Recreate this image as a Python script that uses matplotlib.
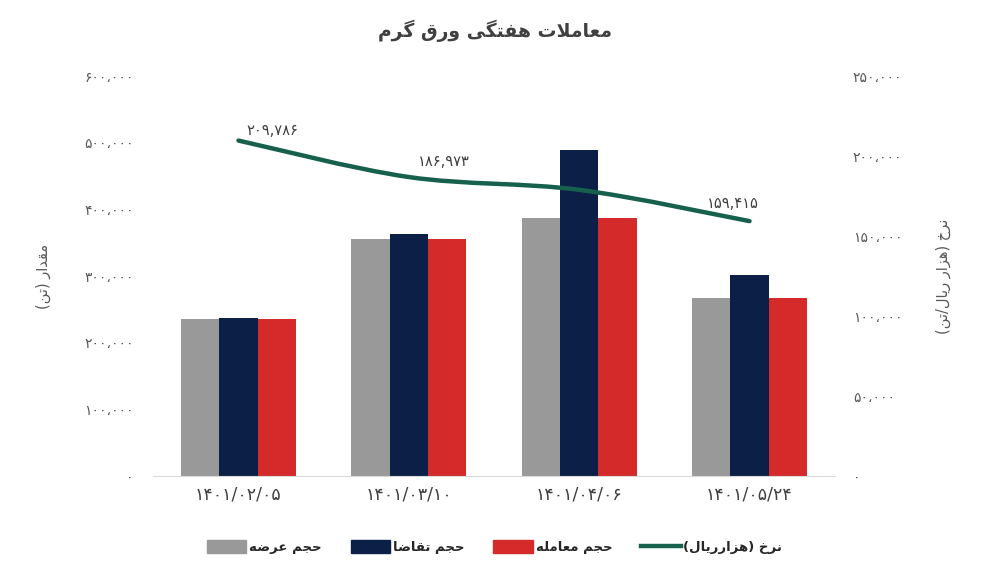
import numpy as np
import matplotlib
matplotlib.use("Agg")
import matplotlib.pyplot as plt
from matplotlib.path import Path
from matplotlib.patches import PathPatch, Patch
from matplotlib.lines import Line2D

# data
dates = ["۱۴۰۱/۰۲/۰۵", "۱۴۰۱/۰۳/۱۰", "۱۴۰۱/۰۴/۰۶", "۱۴۰۱/۰۵/۲۴"]
supply = [235500, 356000, 387000, 267000]      # حجم عرضه
demand = [237000, 363000, 489000, 301500]      # حجم تقاضا
traded = [235500, 356000, 387000, 267000]      # حجم معامله
price = [209786, 186973, 179000, 159415]       # نرخ (هزار ریال)
price_labels = ["۲۰۹,۷۸۶", "۱۸۶,۹۷۳", None, "۱۵۹,۴۱۵"]
left_ticks = [0, 100000, 200000, 300000, 400000, 500000, 600000]
right_ticks = [0, 50000, 100000, 150000, 200000, 250000]

# minimal persian shaping (isolated, final, initial, medial)
FORMS = {
	'ا': ('\uFE8D', '\uFE8E', None, None),
	'د': ('\uFEA9', '\uFEAA', None, None),
	'ر': ('\uFEAD', '\uFEAE', None, None),
	'ز': ('\uFEAF', '\uFEB0', None, None),
	'و': ('\uFEED', '\uFEEE', None, None),
	'ت': ('\uFE95', '\uFE96', '\uFE97', '\uFE98'),
	'ج': ('\uFE9D', '\uFE9E', '\uFE9F', '\uFEA0'),
	'ح': ('\uFEA1', '\uFEA2', '\uFEA3', '\uFEA4'),
	'خ': ('\uFEA5', '\uFEA6', '\uFEA7', '\uFEA8'),
	'ض': ('\uFEBD', '\uFEBE', '\uFEBF', '\uFEC0'),
	'ع': ('\uFEC9', '\uFECA', '\uFECB', '\uFECC'),
	'ف': ('\uFED1', '\uFED2', '\uFED3', '\uFED4'),
	'ق': ('\uFED5', '\uFED6', '\uFED7', '\uFED8'),
	'ل': ('\uFEDD', '\uFEDE', '\uFEDF', '\uFEE0'),
	'م': ('\uFEE1', '\uFEE2', '\uFEE3', '\uFEE4'),
	'ن': ('\uFEE5', '\uFEE6', '\uFEE7', '\uFEE8'),
	'ه': ('\uFEE9', '\uFEEA', '\uFEEB', '\uFEEC'),
	'ی': ('\uFBFC', '\uFBFD', '\uFBFE', '\uFBFF'),
	'گ': ('\uFB92', '\uFB93', '\uFB94', '\uFB95'),
}
MIRROR = {'(': ')', ')': '('}

def fa(text):
	out = []
	i = 0
	n = len(text)
	while i < n:
		c = text[i]
		if c not in FORMS:
			out.append(c)
			i += 1
			continue
		prev = text[i - 1] if i > 0 else None
		join_prev = prev in FORMS and FORMS[prev][2] is not None
		if c == 'ل' and i + 1 < n and text[i + 1] == 'ا':
			out.append('\uFEFC' if join_prev else '\uFEFB')
			i += 2
			continue
		nxt = text[i + 1] if i + 1 < n else None
		join_next = nxt in FORMS and FORMS[c][2] is not None
		f = FORMS[c]
		if join_prev and join_next:
			out.append(f[3])
		elif join_prev:
			out.append(f[1])
		elif join_next:
			out.append(f[2])
		else:
			out.append(f[0])
		i += 1
	return "".join(MIRROR.get(ch, ch) for ch in reversed(out))

def fmt(v):
	s = "{:,}".format(int(v)).replace(",", "،")
	return s.translate(str.maketrans("0123456789", "۰۱۲۳۴۵۶۷۸۹"))

def smooth_path(x, y):
	# catmull-rom style bezier through the points (like excel smoothed line)
	pts = np.column_stack([x, y]).astype(float)
	verts = [pts[0]]
	codes = [Path.MOVETO]
	for i in range(len(pts) - 1):
		p0 = pts[i - 1] if i > 0 else pts[i]
		p1 = pts[i]
		p2 = pts[i + 1]
		p3 = pts[i + 2] if i + 2 < len(pts) else pts[i + 1]
		c1 = p1 + (p2 - p0) / 6.0
		c2 = p2 - (p3 - p1) / 6.0
		verts += [c1, c2, p2]
		codes += [Path.CURVE4] * 3
	return Path(verts, codes)

plt.rcParams['font.family'] = ['DejaVu Sans']

GRAY = "#999999"
NAVY = "#0b1f47"
RED = "#d42a2a"
GREEN = "#17604e"
TXT = "#595959"

fig = plt.figure(figsize=(9.89, 5.82), dpi=100)
ax = fig.add_axes([0.155, 0.182, 0.689, 0.687])
ax2 = ax.twinx()

x = np.arange(len(dates))
w = 0.225
ax.bar(x - w, supply, w, color=GRAY, zorder=2)
ax.bar(x, demand, w, color=NAVY, zorder=2)
ax.bar(x + w, traded, w, color=RED, zorder=2)

ax.set_xlim(-0.5, len(dates) - 0.5)
ax.set_ylim(0, 600000)
ax2.set_ylim(0, 250000)

ax2.add_patch(PathPatch(smooth_path(x, price), facecolor="none", edgecolor=GREEN, lw=3.2, capstyle="round", zorder=3))

offsets = [(24, 7), (25, 11), (0, 0), (-12, 13)]
for xi, yi, lab, off in zip(x, price, price_labels, offsets):
	if lab is None:
		continue
	ax2.annotate(lab, (xi, yi), xytext=off, textcoords="offset points", ha="center", va="center",
		fontsize=10.5, color="#404040")

ax.set_yticks(left_ticks)
ax.set_yticklabels([fmt(v) for v in left_ticks])
ax2.set_yticks(right_ticks)
ax2.set_yticklabels([fmt(v) for v in right_ticks])
ax.set_xticks(x)
ax.set_xticklabels(dates)

for a in (ax, ax2):
	for s in a.spines.values():
		s.set_visible(False)
	a.tick_params(length=0, labelsize=10, colors=TXT)
ax.spines["bottom"].set_visible(True)
ax.spines["bottom"].set_color("#d9d9d9")
ax.tick_params(axis="y", pad=14)
ax2.tick_params(axis="y", pad=13)
ax.tick_params(axis="x", labelsize=12.5, colors="#404040", pad=7)

ax.set_ylabel(fa("مقدار (تن)"), fontsize=10.5, color=TXT, labelpad=24)
ax2.set_ylabel(fa("نرخ (هزار ریال/تن)"), fontsize=10.5, color=TXT, rotation=90, labelpad=24)

fig.text(0.5, 0.947, fa("معاملات هفتگی ورق گرم"), ha="center", va="center", fontsize=13.5,
	fontweight="bold", color="#404040")

handles = [
	Patch(color=GRAY, label=fa("حجم عرضه")),
	Patch(color=NAVY, label=fa("حجم تقاضا")),
	Patch(color=RED, label=fa("حجم معامله")),
	Line2D([], [], color=GREEN, lw=3.2, label=fa("نرخ (هزارریال)")),
]
leg = fig.legend(handles=handles, loc="center", bbox_to_anchor=(0.5, 0.06), ncol=4, frameon=False,
	fontsize=9.5, handlelength=3.0, handleheight=1.1, columnspacing=2.2, handletextpad=0.2)
for t in leg.get_texts():
	t.set_color("#262626")
	t.set_fontweight("bold")

fig.savefig("out.png", dpi=100, facecolor="white")
